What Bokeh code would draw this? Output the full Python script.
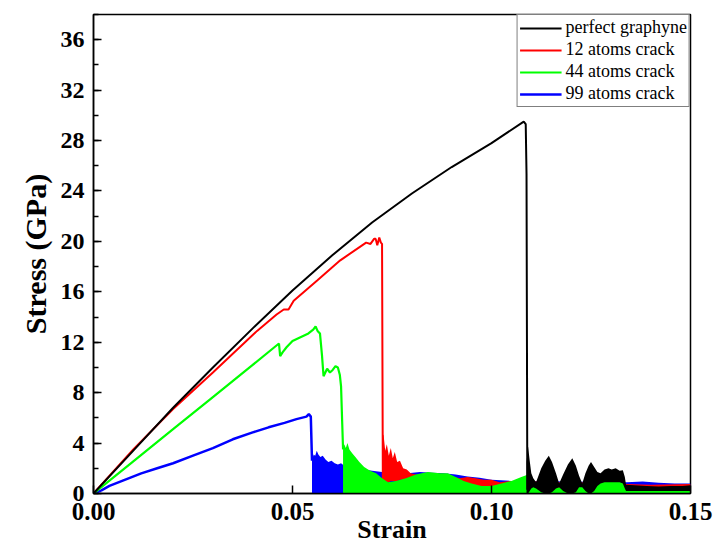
from bokeh.plotting import figure
from bokeh.models import (Legend, LegendItem, FixedTicker, SingleIntervalTicker, Range1d)
from bokeh.embed import file_html
from bokeh.resources import INLINE

# ---------------- data ----------------
x_ticks = [0.0, 0.05, 0.10, 0.15]
x_tick_labels = ["0.00", "0.05", "0.10", "0.15"]

series_names = ["perfect graphyne", "12 atoms crack", "44 atoms crack", "99 atoms crack"]

# perfect graphyne
black_strain = [0, 0.01, 0.02, 0.03, 0.04, 0.05, 0.06, 0.07, 0.08, 0.09, 0.10, 0.1081, 0.1086, 0.1088, 0.1090]
black_stress = [0, 3.4, 6.8, 10.0, 13.1, 16.1, 18.9, 21.5, 23.8, 25.9, 27.8, 29.5, 29.3, 25.3, 0.3]
black_band_strain = [0.1088, 0.1092, 0.1096, 0.1100, 0.1105, 0.1112, 0.1125, 0.1135, 0.1144, 0.1152,
                     0.1162, 0.1170, 0.1180, 0.1192, 0.1203, 0.1212, 0.1220, 0.1228, 0.1236, 0.1244,
                     0.1250, 0.1258, 0.1266, 0.1274, 0.1284, 0.1294, 0.1302, 0.1312, 0.1322, 0.1330,
                     0.1335, 0.1338, 0.1360, 0.1390, 0.1420, 0.1450, 0.1480, 0.1500]
black_band_high = [2.5, 3.7, 2.6, 1.6, 1.2, 0.9, 2.0, 2.6, 3.0, 2.5,
                   1.6, 0.8, 1.5, 2.3, 2.8, 2.2, 1.4, 0.8, 1.6, 2.2,
                   2.5, 2.1, 1.7, 1.6, 1.9, 2.0, 1.9, 2.0, 1.8, 1.85,
                   1.3, 0.7, 0.65, 0.6, 0.55, 0.6, 0.6, 0.65]
black_band_low = [0.0, 0.0, 0.2, 0.4, 0.5, 0.4, 0.1, 0.0, 0.0, 0.1,
                  0.4, 0.5, 0.2, 0.0, 0.0, 0.1, 0.5, 0.5, 0.2, 0.0,
                  0.0, 0.2, 0.6, 0.8, 0.9, 0.9, 0.9, 0.9, 0.9, 0.8,
                  0.4, 0.2, 0.2, 0.2, 0.2, 0.2, 0.2, 0.2]

# 12 atoms crack
red_strain = [0, 0.01, 0.02, 0.03, 0.0411, 0.046, 0.0478, 0.049, 0.0503, 0.0562,
              0.062, 0.0685, 0.0696, 0.0705, 0.0709, 0.0713, 0.0718, 0.0722, 0.0725, 0.0727]
red_stress = [0, 3.5, 6.7, 9.6, 12.9, 14.2, 14.6, 14.6, 15.3, 16.9,
              18.5, 19.9, 19.8, 20.2, 20.2, 19.7, 20.3, 19.9, 19.8, 1.0]
red_band_strain = [0.0725, 0.0729, 0.0733, 0.0737, 0.0742, 0.0747, 0.0752, 0.0757, 0.0763, 0.0770,
                   0.0778, 0.0787, 0.0797, 0.0810, 0.0830, 0.0860, 0.0890, 0.0920, 0.0940, 0.0960,
                   0.0980, 0.1000, 0.1020, 0.1050, 0.1090, 0.1150, 0.1220, 0.1300, 0.1400, 0.1500]
red_band_high = [4.8, 4.6, 3.4, 3.9, 3.0, 3.6, 2.8, 3.3, 2.5, 2.6,
                 2.0, 1.9, 1.6, 1.5, 1.4, 1.5, 1.4, 1.2, 1.3, 1.2,
                 1.1, 1.1, 0.9, 1.0, 1.0, 0.9, 0.9, 0.8, 0.7, 0.75]
red_band_low = [0.9, 0.9, 0.9, 0.9, 0.9, 1.0, 1.0, 1.0, 1.0, 1.1,
                1.1, 1.1, 1.1, 1.1, 0.9, 0.8, 0.7, 0.6, 0.5, 0.4,
                0.4, 0.4, 0.5, 0.6, 0.5, 0.4, 0.4, 0.4, 0.3, 0.3]

# 44 atoms crack
green_strain = [0, 0.01, 0.02, 0.03, 0.04, 0.0466, 0.0469, 0.0475, 0.0485, 0.050,
                0.052, 0.054, 0.0552, 0.0558, 0.0563, 0.0569, 0.0574, 0.0578, 0.0581, 0.0587,
                0.0594, 0.0601, 0.0608, 0.0614, 0.0619, 0.0622, 0.0625, 0.0627]
green_stress = [0, 2.55, 5.1, 7.65, 10.2, 11.9, 10.9, 11.2, 11.6, 12.1,
                12.4, 12.7, 13.0, 13.25, 12.9, 12.7, 11.0, 9.3, 9.5, 9.9,
                9.6, 9.8, 10.1, 10.0, 9.4, 8.5, 5.5, 3.5]
green_band_strain = [0.0627, 0.0630, 0.0634, 0.0638, 0.0643, 0.0650, 0.0658, 0.0668, 0.0680, 0.0695,
                     0.0710, 0.0725, 0.0740, 0.0760, 0.0785, 0.0810, 0.0840, 0.0870, 0.0890, 0.0910,
                     0.0930, 0.0950, 0.0975, 0.1000, 0.1025, 0.1050, 0.1075, 0.1092, 0.1120, 0.1150,
                     0.1180, 0.1210, 0.1240, 0.1270, 0.1300, 0.1330, 0.1337, 0.1360, 0.1400, 0.1450,
                     0.1500]
green_band_high = [3.5, 3.9, 3.6, 4.0, 3.5, 3.2, 2.9, 2.5, 2.1, 1.8,
                   1.6, 1.2, 0.9, 1.0, 1.2, 1.5, 1.7, 1.6, 1.6, 1.3,
                   1.0, 0.8, 0.6, 0.6, 0.8, 1.0, 1.3, 1.5, 0.6, 0.5,
                   0.5, 0.6, 0.8, 0.9, 0.95, 0.9, 0.4, 0.5, 0.35, 0.3,
                   0.3]
green_band_low = [0.0] * len(green_band_strain)

# 99 atoms crack
blue_strain = [0, 0.002, 0.004, 0.008, 0.012, 0.016, 0.020, 0.025, 0.030, 0.035,
               0.040, 0.044, 0.048, 0.051, 0.0535, 0.0541, 0.0546, 0.0549]
blue_stress = [0, 0.25, 0.6, 1.1, 1.6, 2.0, 2.4, 3.0, 3.6, 4.3,
               4.85, 5.25, 5.6, 5.9, 6.1, 6.3, 6.1, 2.6]
blue_band_strain = [0.0549, 0.0553, 0.0557, 0.0561, 0.0565, 0.0570, 0.0576, 0.0583, 0.0590, 0.0598,
                    0.0606, 0.0614, 0.0622, 0.0630, 0.0660, 0.0700, 0.0750, 0.0790, 0.0820, 0.0850,
                    0.0880, 0.0910, 0.0940, 0.0970, 0.1000, 0.1050, 0.1100, 0.1200, 0.1300, 0.1340,
                    0.1380, 0.1420, 0.1460, 0.1500]
blue_band_high = [2.6, 3.1, 3.0, 3.4, 3.1, 2.9, 3.0, 2.7, 2.5, 2.6,
                  2.4, 2.3, 2.4, 2.2, 2.0, 1.8, 1.6, 1.6, 1.7, 1.65,
                  1.6, 1.5, 1.35, 1.25, 1.1, 1.0, 1.0, 0.95, 0.9, 0.9,
                  0.95, 0.85, 0.8, 0.8]
blue_band_low = [0, 0, 0, 0, 0, 0, 0, 0, 0, 0,
                 0, 0, 0, 0, 0.3, 0.4, 0.6, 0.8, 0.9, 0.9,
                 0.9, 0.8, 0.7, 0.6, 0.6, 0.5, 0.4, 0.4, 0.4, 0.4,
                 0.4, 0.4, 0.3, 0.3]

# ---------------- figure ----------------
SERIF = "Liberation Serif"
BLACK, RED, GREEN, BLUE = "#000000", "#ff0000", "#00ff00", "#0000ff"

p = figure(width=716, height=554,
           x_range=Range1d(0, 0.15), y_range=Range1d(0, 38),
           output_backend="svg", toolbar_location=None,
           min_border_left=93, min_border_top=14, min_border_right=26, min_border_bottom=61)
p.background_fill_color = "white"
p.border_fill_color = "white"
p.grid.visible = False
p.outline_line_color = "black"
p.outline_line_width = 1.5

# axes
p.xaxis.ticker = FixedTicker(ticks=x_ticks)
p.xaxis.major_label_overrides = {t: s for t, s in zip(x_ticks, x_tick_labels)}
p.yaxis.ticker = SingleIntervalTicker(interval=4, num_minor_ticks=2)
for ax in (p.xaxis[0], p.yaxis[0]):
    ax.axis_line_width = 1.5
    ax.axis_line_color = "black"
    ax.major_tick_in = 8
    ax.major_tick_out = 0
    ax.minor_tick_in = 5
    ax.minor_tick_out = 0
    ax.major_tick_line_width = 1.5
    ax.minor_tick_line_width = 1.5
    ax.major_label_text_font = SERIF
    ax.major_label_text_font_style = "bold"
    ax.major_label_text_color = "black"
    ax.axis_label_text_font = SERIF
    ax.axis_label_text_font_style = "bold"
    ax.axis_label_text_color = "black"
p.xaxis.minor_tick_line_color = None
p.xaxis.major_label_text_font_size = "25px"
p.xaxis.major_label_standoff = 9
p.yaxis.major_label_text_font_size = "24px"
p.yaxis.major_label_standoff = 9

p.yaxis.axis_label = "Stress (GPa)"
p.yaxis.axis_label_text_font_size = "30px"
p.yaxis.axis_label_standoff = 6

p.xaxis.axis_label = "Strain"
p.xaxis.axis_label_text_font_size = "26px"
p.xaxis.axis_label_standoff = -8

# noisy post-fracture bands and curves
p.varea(x=blue_band_strain, y1=blue_band_low, y2=blue_band_high, fill_color=BLUE)
r_blue = p.line(blue_strain, blue_stress, line_color=BLUE, line_width=2.5)
p.varea(x=red_band_strain, y1=red_band_low, y2=red_band_high, fill_color=RED)
r_red = p.line(red_strain, red_stress, line_color=RED, line_width=2)
p.varea(x=green_band_strain, y1=green_band_low, y2=green_band_high, fill_color=GREEN)
r_green = p.line(green_strain, green_stress, line_color=GREEN, line_width=2.2)
p.varea(x=black_band_strain, y1=black_band_low, y2=black_band_high, fill_color=BLACK)
r_black = p.line(black_strain, black_stress, line_color=BLACK, line_width=2)

legend = Legend(items=[LegendItem(label=n, renderers=[r]) for n, r in
                       zip(series_names, [r_black, r_red, r_green, r_blue])],
                location="top_right", margin=0, padding=2, spacing=1,
                glyph_width=42, glyph_height=18, label_height=18, label_standoff=4,
                label_text_font=SERIF, label_text_font_size="18px", label_text_color="black",
                border_line_color="black", border_line_width=1.5,
                background_fill_color="white", background_fill_alpha=1.0)
p.add_layout(legend)

open("out.html", "w").write(file_html(p, INLINE))
